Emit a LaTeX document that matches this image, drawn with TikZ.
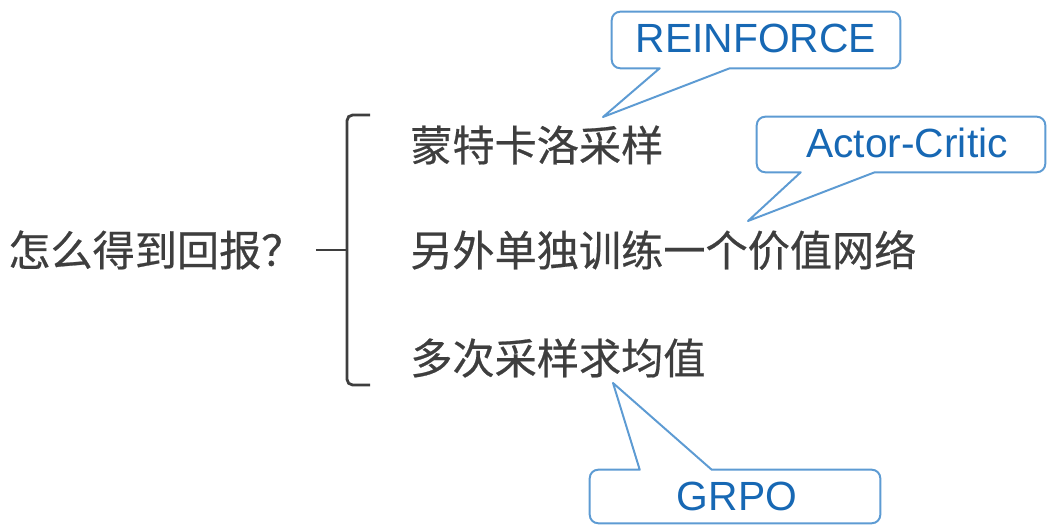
\documentclass[tikz,border=0pt]{standalone}
\usepackage{fontspec}
\setmainfont{Liberation Sans}
\newfontfamily\cjk[FakeBold=0.5]{Noto Sans CJK SC}
\usepackage{tikz}
\usetikzlibrary{calc}
\definecolor{txtgray}{HTML}{3E3E3E}
\definecolor{tagblue}{HTML}{1768B4}
\definecolor{lineblue}{HTML}{5D9BD3}
\tikzstyle{q} = [text=txtgray, inner sep=0pt, font=\cjk\fontsize{30}{36}\selectfont]
\tikzstyle{item} = [text=txtgray, inner sep=0pt, anchor=west, font=\cjk\fontsize{30}{36}\selectfont]
\tikzstyle{tag} = [text=tagblue, inner sep=0pt, font=\fontsize{29}{34}\selectfont]
\tikzstyle{callout} = [draw=lineblue, line width=1.4pt, fill=white, line join=round]
\tikzstyle{brace} = [draw=txtgray, line width=2pt, rounded corners=4pt]

\begin{document}
\begin{tikzpicture}
	\useasboundingbox (0,0) rectangle (26.4,13.275);
	%	question and the three answers
		\node[q, anchor=west] (q) at (0.2,7.025) {怎么得到回报？};
		\node[item] (mc) at (10.25,9.65) {蒙特卡洛采样};
		\node[item] (vn) at (10.25,7.025) {另外单独训练一个价值网络};
		\node[item] (gm) at (10.25,4.325) {多次采样求均值};
	%	brace
		\draw[brace] (9.25,10.4) -- (8.675,10.4) -- (8.675,3.65) -- (9.25,3.65);
		\draw[brace] ($(q.east)+(0.3,0)$) -- (8.675,7.025);
	%	callout boxes
		\node[minimum width=7.2cm, minimum height=1.4cm] (rf) at (18.9,12.275) {};
		\node[minimum width=7.2cm, minimum height=1.375cm] (ac) at (22.525,9.6625) {};
		\node[minimum width=7.25cm, minimum height=1.325cm] (gr) at (18.375,0.8625) {};
		\coordinate (trf) at (15.075,10.35);
		\coordinate (tac) at (18.7,7.75);
		\coordinate (tgr) at (15.325,3.7);
		\draw[callout] ($(rf.south west)+(2.95,0)$) [rounded corners=6pt] -- (rf.south east) -- (rf.north east) -- (rf.north west) -- (rf.south west) [sharp corners] -- ($(rf.south west)+(1.2,0)$) -- (trf) -- cycle;
		\draw[callout] ($(ac.south west)+(2.95,0)$) [rounded corners=6pt] -- (ac.south east) -- (ac.north east) -- (ac.north west) -- (ac.south west) [sharp corners] -- ($(ac.south west)+(1.1,0)$) -- (tac) -- cycle;
		\draw[callout] ($(gr.north west)+(1.25,0)$) [rounded corners=6pt] -- (gr.north west) -- (gr.south west) -- (gr.south east) -- (gr.north east) [sharp corners] -- ($(gr.north west)+(3.05,0)$) -- (tgr) -- cycle;
		\node[tag] at ($(rf)+(0,0.05)$) {REINFORCE};
		\node[tag] at ($(ac)+(0.15,0.05)$) {Actor-Critic};
		\node[tag] at ($(gr)+(0.05,0)$) {GRPO};
	\end{tikzpicture}
\end{document}
